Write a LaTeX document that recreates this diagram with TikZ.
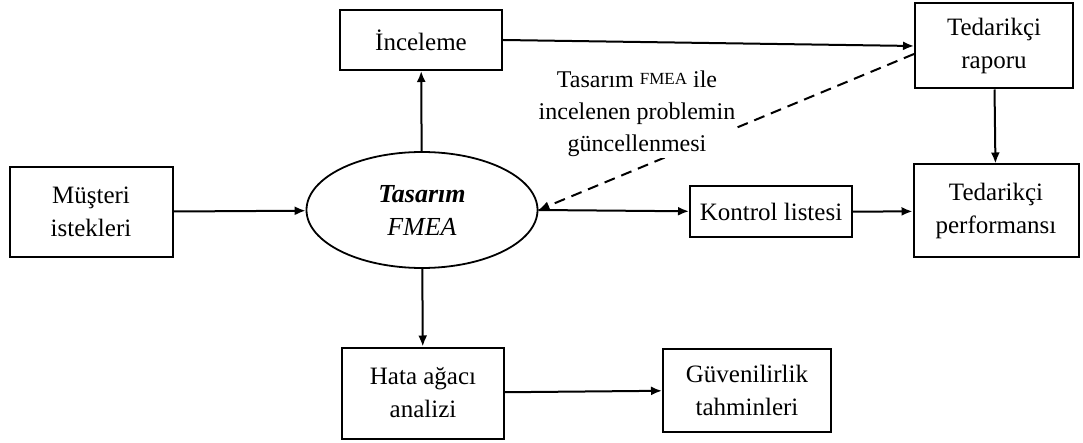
\documentclass[tikz,border=0pt]{standalone}
\usepackage{fontspec}
\setmainfont{Liberation Serif}
\usepackage{tikz}
\usetikzlibrary{arrows.meta,shapes.geometric}

\begin{document}
\begin{tikzpicture}[x=1pt, y=-1pt,
  box/.style={draw, line width=2pt, align=center, font=\fontsize{25}{33}\selectfont},
  arr/.style={-{Latex[length=11pt,width=9pt]}, line width=2pt}]
\useasboundingbox (0,0) rectangle (1083,443);

% Customer input
\node[box, minimum width=163pt, minimum height=90pt] (mus) at (91,212) {Müşteri\\istekleri};

% Design FMEA
\node[draw, ellipse, line width=1.8pt, minimum width=231pt, minimum height=116pt, align=center, font=\fontsize{26}{33}\selectfont] (tas) at (422,210) {\textbf{\textit{Tasarım}}\\\textit{FMEA}};

% Review
\node[box, minimum width=162pt, minimum height=60pt] (inc) at (421,40) {İnceleme};

% Supplier report
\node[box, minimum width=158pt, minimum height=85pt] (rap) at (994,46) {Tedarikçi\\raporu};

% Checklist
\node[box, minimum width=162pt, minimum height=51pt] (kon) at (771,212) {Kontrol listesi};

% Supplier performance
\node[box, minimum width=165pt, minimum height=93pt] (perf) at (996,211) {Tedarikçi\\performansı};

% Fault tree
\node[box, minimum width=162pt, minimum height=91pt] (hata) at (423,393) {Hata ağacı\\analizi};

% Reliability
\node[box, minimum width=168pt, minimum height=83pt] (guv) at (747,390) {Güvenilirlik\\tahminleri};

% Arrows
\draw[arr] (mus) -- (tas);
\draw[arr] (tas) -- (inc);
\draw[arr] (tas) -- (hata);
\draw[arr] (tas.east) -- (kon);
\draw[arr] (kon) -- (perf);
\draw[arr] (hata) -- (guv);
\draw[arr] (inc.east) -- (rap.west);
\draw[arr] (rap) -- (perf);

% Feedback
\draw[arr, dash pattern=on 11pt off 7pt] ([yshift=-8pt]rap.west) -- (tas.east);
\node[fill=white, align=center, inner sep=1pt, font=\fontsize{24}{32}\selectfont] (upd) at (637,114)
  {Tasarım \raisebox{3pt}{\fontsize{17}{17}\selectfont FMEA} ile\\incelenen problemin\\güncellenmesi};
\end{tikzpicture}
\end{document}
